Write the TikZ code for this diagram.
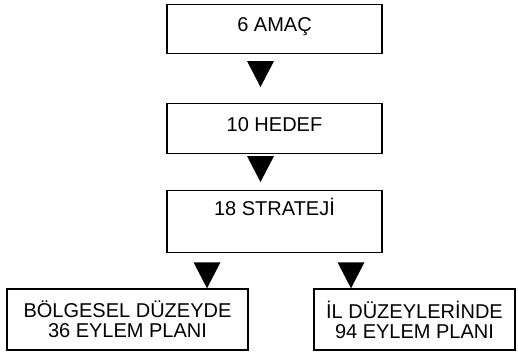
\documentclass[tikz,border=0pt]{standalone}
\usepackage{fontspec}
\setmainfont{Liberation Sans}
\usetikzlibrary{calc}

\newcommand{\pxu}{0.75pt}

\tikzset{
  box/.style={draw, line width=1.1pt, inner sep=0pt, font=\fontsize{15}{15}\selectfont},
  twoline/.style={box, align=center},
  tri/.style={fill=black},
}

\begin{document}
\begin{tikzpicture}[x=0.75pt,y=-0.75pt]
      % Canvas
      \fill[white] (0,0) rectangle (518,355);
      \useasboundingbox (0,0) rectangle (518,355);

      % Top column
      \node[box, anchor=north, minimum width=215*\pxu, text height=27*\pxu, text depth=22*\pxu] (amac) at (274.5,4) {6 AMAÇ};
      \node[box, anchor=north, minimum width=215*\pxu, text height=28*\pxu, text depth=22*\pxu] (hedef) at (274.5,103) {10 HEDEF};
      \node[box, anchor=north, minimum width=215*\pxu, text height=25*\pxu, text depth=37*\pxu] (strateji) at (274.5,190) {18 STRATEJİ};

      % Bottom row
      \node[twoline, minimum width=241*\pxu, minimum height=61*\pxu] (bolge) at (127.5,319.5) {BÖLGESEL DÜZEYDE\\36 EYLEM PLANI};
      \node[twoline, minimum width=201*\pxu, minimum height=61*\pxu] (il) at (414.5,319.5) {İL DÜZEYLERİNDE\\94 EYLEM PLANI};

      % Arrows
      \coordinate (t1) at (260.5,61);
      \coordinate (t2) at (260.5,156);
      \coordinate (t3) at ($(bolge.north)+(79.5,-26)$);
      \coordinate (t4) at ($(il.north)+(-63.5,-26)$);
      \foreach \t in {t1,t2,t3,t4}
      {
        \fill[tri] (\t) ++(-13.5,0) -- ++(27,0) -- ++(-13.5,26) -- cycle;
      }
\end{tikzpicture}
\end{document}
